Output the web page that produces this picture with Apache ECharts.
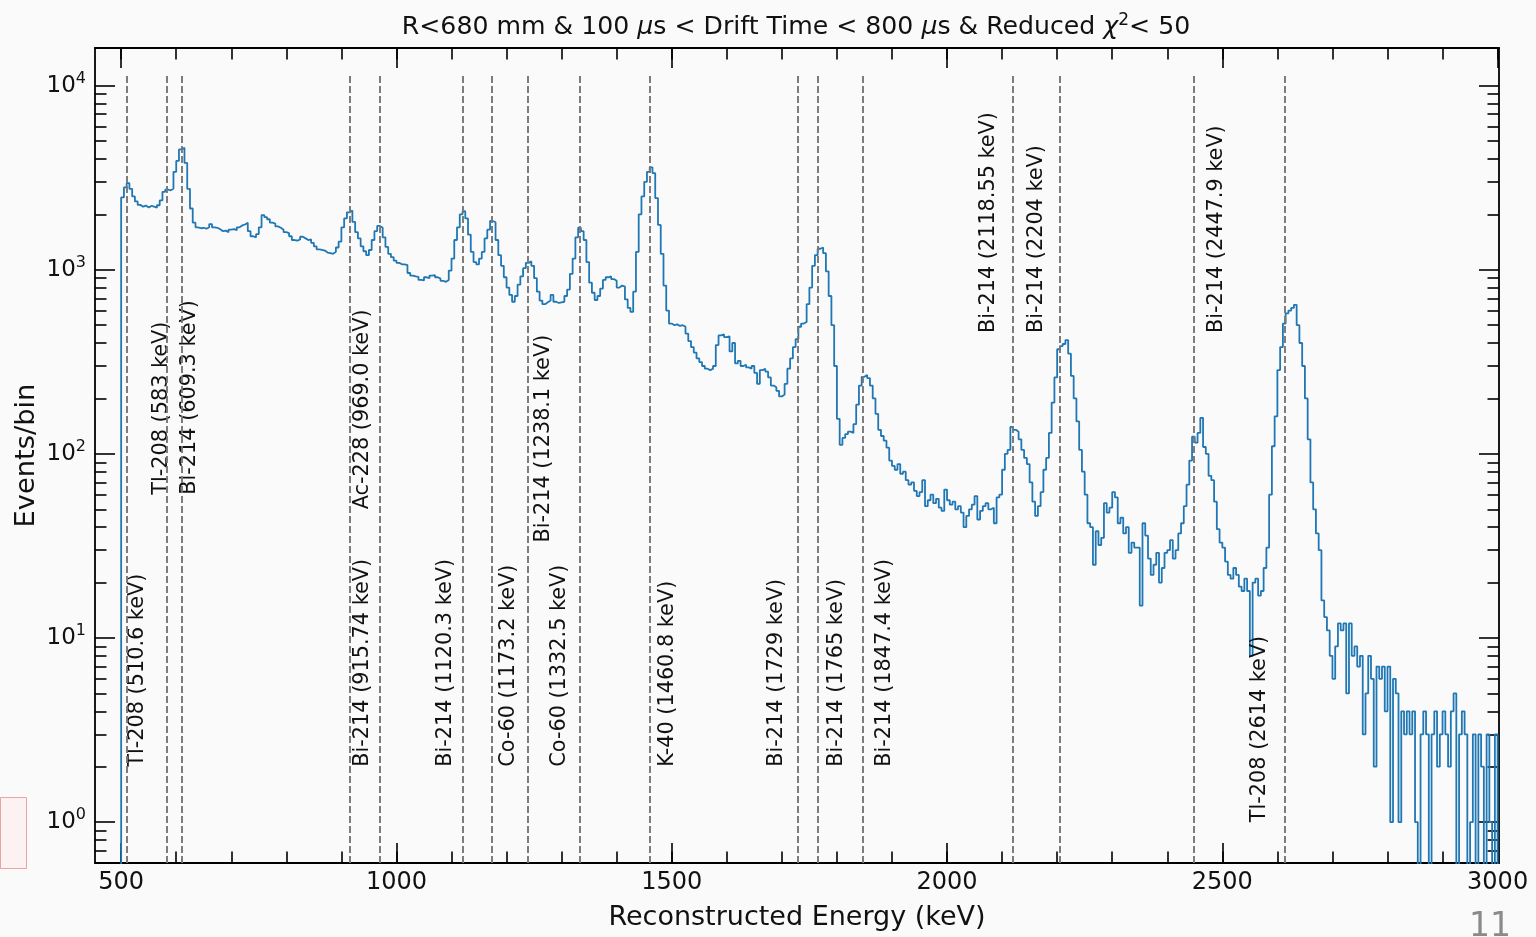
<!DOCTYPE html>
<html><head><meta charset="utf-8">
<script src="https://cdn.jsdelivr.net/npm/echarts@6/dist/echarts.min.js"></script>
<style>html,body{margin:0;padding:0;background:#fafafa;}#c{width:1536px;height:937px;}</style>
</head><body><div id="c"></div>
<script>
// ---------------- data ----------------
const binStart = 500;   // keV, left edge of first bin
const binWidth = 5;     // keV
const counts500 = [2470,2800,2950,2750,2500,2350,2250,2200,2230,2180,2220,2200,2170,2240,2380,2650,2720,2700,2750,3400];
const counts600 = [3900,4500,4600,3800,2750,2150,1800,1700,1680,1690,1670,1700,1770,1700,1690,1660,1620,1630,1600,1650];
const counts700 = [1660,1640,1700,1740,1760,1800,1620,1520,1500,1560,1700,1980,1930,1880,1800,1780,1720,1690,1650,1600];
const counts800 = [1580,1520,1450,1440,1460,1510,1480,1450,1460,1400,1340,1290,1280,1270,1240,1230,1220,1250,1320,1420];
const counts900 = [1700,1900,2050,2100,1820,1600,1480,1340,1260,1200,1280,1450,1620,1730,1690,1500,1330,1220,1170,1120];
const counts1000 = [1090,1070,1070,1060,960,930,920,915,880,875,910,900,930,935,910,895,870,860,880,990];
const counts1100 = [1150,1450,1700,2000,2080,1900,1550,1250,1100,1070,1150,1250,1480,1650,1840,1810,1450,1200,1050,910];
const counts1200 = [800,730,670,720,830,920,1020,1090,1110,1050,900,760,680,650,665,680,730,670,660,665];
const counts1300 = [670,720,780,950,1150,1500,1690,1620,1450,1100,850,750,685,720,790,880,910,920,890,870];
const counts1400 = [800,820,810,690,620,590,760,1250,2000,2500,3000,3400,3600,3350,2450,1750,1220,820,600,510];
const counts1500 = [500,505,495,500,490,450,410,380,355,330,315,300,290,285,290,300,390,440,445,430];
const counts1600 = [435,360,400,310,320,300,305,295,290,300,275,240,285,290,280,260,235,230,220,205];
const counts1700 = [210,240,290,330,380,420,490,510,520,650,800,1050,1200,1300,1320,1230,980,720,500,300];
const counts1800 = [155,112,122,128,132,130,145,185,235,262,268,258,235,200,165,135,125,118,108,92];
const counts1900 = [86,82,88,78,80,72,68,70,63,59,62,72,52,56,60,54,57,51,49,64];
const counts2000 = [56,53,55,50,52,48,40,46,50,53,59,44,49,52,54,50,51,42,58,60];
const counts2100 = [82,100,105,140,135,132,120,105,95,88,70,55,46,52,62,82,95,130,190,260];
const counts2200 = [370,385,395,415,350,265,200,150,105,80,60,42,40,25,38,32,35,54,48,51];
const counts2300 = [62,58,42,45,37,40,29,33,31,31,15,42,36,27,22,25,29,20,24,29];
const counts2400 = [30,34,27,30,37,42,52,68,92,124,115,130,157,109,100,76,72,55,39,33];
const counts2500 = [31,26,22,21,24,22,19,18,21,18,8,20,21,17,18,24,31,60,110,160];
const counts2600 = [285,380,510,580,600,620,645,500,400,300,200,120,70,50,37,30,16,13,11,8];
const counts2700 = [6,9,12,11,12,5,12,8,9,7,8,3,5,8,6,2,7,6,7,4];
const counts2800 = [7,1,6,5,1,4,3,4,3,4,1,0,3,4,3,0,3,4,2,3];
const counts2900 = [4,3,2,4,5,0,3,4,3,0,1,3,0,3,2,0,3,1,0,3];

const peakEnergies = [510.6, 583, 609.3, 915.74, 969.0, 1120.3, 1173.2, 1238.1, 1332.5, 1460.8, 1729, 1765, 1847.4, 2118.55, 2204, 2447.9, 2614];
const peakLabels = ['Tl-208 (510.6 keV)','Tl-208 (583 keV)','Bi-214 (609.3 keV)','Bi-214 (915.74 keV)','Ac-228 (969.0 keV)',
  'Bi-214 (1120.3 keV)','Co-60 (1173.2 keV)','Bi-214 (1238.1 keV)','Co-60 (1332.5 keV)','K-40 (1460.8 keV)',
  'Bi-214 (1729 keV)','Bi-214 (1765 keV)','Bi-214 (1847.4 keV)','Bi-214 (2118.55 keV)','Bi-214 (2204 keV)',
  'Bi-214 (2447.9 keV)','Tl-208 (2614 keV)'];
const labelEnergy = [510, 554, 606, 919, 920, 1071, 1184, 1249, 1278, 1473, 1672, 1781, 1867, 2056, 2143, 2470, 2548];
const labelBottom = [2, 60, 60, 2, 50, 2, 2, 33, 2, 2, 2, 2, 2, 453, 453, 453, 1];
const peakLineTop = 11500;

const xMajorTicks = [500, 1000, 1500, 2000, 2500, 3000];
const xMinorTicks = [500,600,700,800,900,1000,1100,1200,1300,1400,1500,1600,1700,1800,1900,2000,2100,2200,2300,2400,2500,2600,2700,2800,2900,3000];
const yMajorTicks = [1, 10, 100, 1000, 10000];
const yMinorTicks = [0.6,0.7,0.8,0.9, 2,3,4,5,6,7,8,9, 20,30,40,50,60,70,80,90, 200,300,400,500,600,700,800,900, 2000,3000,4000,5000,6000,7000,8000,9000];
const xRange = [452.5, 3002.5];
const yRange = [0.6, 16000];

// ---------------- build ----------------
const counts = [].concat(counts500,counts600,counts700,counts800,counts900,counts1000,counts1100,counts1200,counts1300,counts1400,
  counts1500,counts1600,counts1700,counts1800,counts1900,counts2000,counts2100,counts2200,counts2300,counts2400,
  counts2500,counts2600,counts2700,counts2800,counts2900);
const L = v => Math.log10(v);
const yLo = L(yRange[0]), yHi = L(yRange[1]);
const yFloor = -3;
const hist = [[binStart - binWidth, yFloor]];
counts.forEach((c, i) => hist.push([binStart + i * binWidth, c > 0 ? L(c) : yFloor]));
hist.push([binStart + counts.length * binWidth, yFloor]);

const FONT = 'DejaVu Sans';
const TXT = '#111';
const axisLineStyle = {color: '#000', width: 1.8};

function xAx(grid, pos, ticks, len, showLine, showLabel) {
  return {
    type: 'value', gridIndex: grid, position: pos, min: xRange[0], max: xRange[1],
    splitLine: {show: false},
    axisLine: {show: showLine, onZero: false, lineStyle: axisLineStyle},
    axisTick: {show: true, inside: true, length: len, customValues: ticks, lineStyle: {color: '#000', width: 1.6}},
    axisLabel: {show: showLabel, customValues: ticks, margin: 8, fontFamily: FONT, fontSize: 24, color: TXT,
      formatter: v => String(v)},
    name: showLabel ? 'Reconstructed Energy (keV)' : '', nameLocation: 'middle', nameGap: 41,
    nameTextStyle: {fontFamily: FONT, fontSize: 27, color: TXT}
  };
}
function yAx(grid, pos, ticks, len, showLine, showLabel) {
  const lt = ticks.map(L);
  return {
    type: 'value', gridIndex: grid, position: pos, min: yLo, max: yHi,
    splitLine: {show: false},
    axisLine: {show: showLine, onZero: false, lineStyle: axisLineStyle},
    axisTick: {show: true, inside: true, length: len, customValues: lt, lineStyle: {color: '#000', width: 1.6}},
    axisLabel: {show: showLabel, customValues: lt, margin: 9, color: TXT,
      formatter: v => '{b|10}{s|' + Math.round(v) + '}',
      rich: {b: {fontFamily: FONT, fontSize: 23, color: TXT, lineHeight: 30},
             s: {fontFamily: FONT, fontSize: 16, color: TXT, verticalAlign: 'top', lineHeight: 16}}},
    name: showLabel ? 'Events/bin' : '', nameLocation: 'middle', nameGap: 55, nameRotate: 90,
    nameMoveOverlap: false,
    nameTextStyle: {fontFamily: FONT, fontSize: 27.3, color: TXT}
  };
}

const gridRect = {left: 95, top: 48, width: 1404, height: 815, outerBoundsMode: 'none', containLabel: false};

const option = {
  backgroundColor: '#fafafa',
  animation: false,
  title: {
    text: '{n|R<680 mm & 100 }{i|μ}{n|s < Drift Time < 800 }{i|μ}{n|s & Reduced }{i|χ}{s|2}{n|< 50}',
    left: 791, top: 7, textAlign: 'center',
    textStyle: {
      fontWeight: 'normal',
      rich: {
        n: {fontFamily: FONT, fontSize: 25.2, fontWeight: 'normal', color: TXT, lineHeight: 30},
        i: {fontFamily: FONT, fontSize: 25.2, fontWeight: 'normal', fontStyle: 'italic', color: TXT, lineHeight: 30},
        s: {fontFamily: FONT, fontSize: 17, fontWeight: 'normal', color: TXT, verticalAlign: 'top', lineHeight: 17}
      }
    }
  },
  grid: [Object.assign({}, gridRect), Object.assign({}, gridRect)],
  xAxis: [
    xAx(0, 'bottom', xMajorTicks, 20, true, true),
    xAx(0, 'top', xMajorTicks, 20, true, false),
    xAx(1, 'bottom', xMinorTicks, 11.5, false, false),
    xAx(1, 'top', xMinorTicks, 11.5, false, false)
  ],
  yAxis: [
    yAx(0, 'left', yMajorTicks, 20, true, true),
    yAx(0, 'right', yMajorTicks, 20, true, false),
    yAx(1, 'left', yMinorTicks, 11.5, false, false),
    yAx(1, 'right', yMinorTicks, 11.5, false, false)
  ],
  series: [
    {
      type: 'line', xAxisIndex: 0, yAxisIndex: 0, data: hist, step: 'end',
      showSymbol: false, symbol: 'none', clip: true, silent: true,
      lineStyle: {color: '#1f77b4', width: 1.8},
      markLine: {
        silent: true, symbol: ['none', 'none'], label: {show: false},
        lineStyle: {color: '#777777', width: 1.9, type: [7, 3]},
        emphasis: {disabled: true},
        data: peakEnergies.map(e => [{coord: [e, yLo]}, {coord: [e, L(peakLineTop)]}])
      },
      z: 3
    },
    {
      type: 'custom', xAxisIndex: 0, yAxisIndex: 0, silent: true, z: 4,
      data: labelEnergy.map((e, i) => [e, L(labelBottom[i])]),
      renderItem: (params, api) => {
        const p = api.coord([api.value(0), api.value(1)]);
        return {
          type: 'text', x: p[0], y: p[1], rotation: Math.PI / 2,
          style: {text: peakLabels[params.dataIndex], fontFamily: FONT, fontSize: 20.8, fill: TXT,
                  align: 'left', verticalAlign: 'top'}
        };
      }
    }
  ],
  graphic: [
    {type: 'rect', shape: {x: 0.5, y: 797.5, width: 26, height: 71}, style: {fill: '#fdf2f2', stroke: '#e8a5a5', lineWidth: 1}, silent: true},
    {type: 'text', x: 1469, y: 911, style: {text: '11', fontFamily: FONT, fontSize: 33, fill: '#8a8a8a'}, silent: true}
  ]
};
const chart = echarts.init(document.getElementById('c'), null, {width: 1536, height: 937});
chart.setOption(option);
</script></body></html>
